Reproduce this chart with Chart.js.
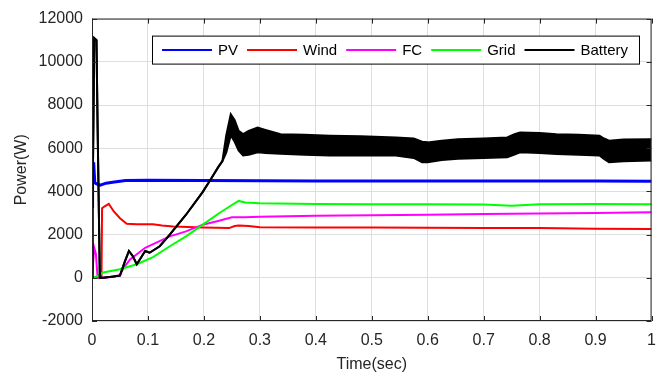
<!DOCTYPE html>
<html>
<head>
<meta charset="utf-8">
<script src="https://cdn.jsdelivr.net/npm/chart.js@4.4.1/dist/chart.umd.min.js"></script>
<style>
  html, body { margin: 0; padding: 0; background: #fff; }
  #wrap { width: 666px; height: 380px; }
</style>
</head>
<body>
<div id="wrap"><canvas id="c" width="666" height="380"></canvas></div>
<script>
// values (time in s, power in W)
const pvT = [0, 0.001, 0.003, 0.005, 0.008, 0.015, 0.025, 0.04, 0.06, 0.1, 0.2, 0.3, 0.4, 0.5, 0.6, 0.7, 0.8, 0.9, 1];
const pvP = [3300, 4900, 5350, 4400, 4350, 4290, 4380, 4440, 4500, 4520, 4500, 4490, 4480, 4480, 4480, 4480, 4480, 4480, 4470];

const windT = [0, 0.017, 0.018, 0.022, 0.03, 0.039, 0.05, 0.062, 0.08, 0.109, 0.125, 0.145, 0.198, 0.245, 0.255, 0.262, 0.28, 0.3, 0.4, 0.5, 0.6, 0.7, 0.8, 0.9, 1];
const windP = [0, 0, 3220, 3300, 3420, 3070, 2760, 2500, 2480, 2480, 2420, 2380, 2330, 2300, 2400, 2420, 2400, 2340, 2330, 2330, 2320, 2310, 2300, 2270, 2260];

const fcT = [0, 0.002, 0.004, 0.007, 0.01, 0.02, 0.04, 0.05, 0.057, 0.068, 0.095, 0.139, 0.168, 0.198, 0.227, 0.25, 0.274, 0.3, 0.4, 0.5, 0.6, 0.7, 0.8, 0.9, 1];
const fcP = [0, 700, 1390, 1100, 0, 0, 50, 150, 470, 850, 1390, 1920, 2150, 2460, 2640, 2800, 2800, 2830, 2870, 2900, 2920, 2950, 2980, 3000, 3030];

const gridT = [0, 0.008, 0.02, 0.05, 0.08, 0.109, 0.139, 0.168, 0.198, 0.227, 0.25, 0.262, 0.274, 0.3, 0.4, 0.5, 0.6, 0.7, 0.75, 0.8, 0.9, 1];
const gridP = [0, 60, 250, 400, 630, 960, 1460, 1920, 2460, 2990, 3370, 3560, 3490, 3450, 3420, 3410, 3400, 3390, 3330, 3400, 3420, 3400];

// battery: upper and lower edge of the oscillating band (same where the trace is thin)
const batT  = [0, 0.001, 0.004, 0.005, 0.008, 0.01, 0.014, 0.02, 0.05, 0.058, 0.066, 0.073, 0.08, 0.088, 0.095, 0.103, 0.112, 0.121, 0.139, 0.168, 0.198, 0.212, 0.225, 0.233, 0.24, 0.248, 0.255, 0.262, 0.27, 0.28, 0.296, 0.31, 0.337, 0.38, 0.425, 0.48, 0.543, 0.575, 0.59, 0.6, 0.625, 0.654, 0.7, 0.742, 0.755, 0.765, 0.8, 0.83, 0.87, 0.907, 0.915, 0.924, 0.95, 1];
const batHi = [0, 3200, 11100, 11100, 11000, 7000, 0, 0, 100, 700, 1240, 1000, 630, 950, 1240, 1160, 1310, 1460, 2000, 2920, 3980, 4550, 5100, 5400, 6600, 7570, 7300, 6800, 6650, 6800, 6960, 6850, 6650, 6620, 6580, 6550, 6500, 6450, 6300, 6270, 6350, 6420, 6450, 6500, 6650, 6730, 6700, 6650, 6620, 6580, 6450, 6350, 6400, 6420];
const batLo = [0, 3200, 11100, 11100, 11000, 7000, 0, 0, 100, 700, 1240, 1000, 630, 950, 1240, 1160, 1310, 1460, 2000, 2920, 3980, 4550, 5100, 5400, 5800, 6600, 6300, 5900, 5660, 5700, 5810, 5780, 5740, 5700, 5660, 5660, 5660, 5550, 5350, 5350, 5450, 5510, 5550, 5580, 5700, 5810, 5780, 5730, 5700, 5660, 5500, 5350, 5400, 5430];

const names = ['PV', 'Wind', 'FC', 'Grid', 'Battery'];
const colors = ['#0000ff', '#ff0000', '#ff00ff', '#00ff00', '#000000'];

const FONT = "'Liberation Sans', Arial, sans-serif";
const pts = (ts, vs) => ts.map((t, i) => ({ x: t, y: vs[i] }));

function line(label, data, color, width, order) {
  return {
    label, data, borderColor: color, backgroundColor: color,
    borderWidth: width, pointRadius: 0, tension: 0, fill: false, order
  };
}

const datasets = [
  line(names[0], pts(pvT, pvP), colors[0], 3, 4),
  line(names[1], pts(windT, windP), colors[1], 2, 3),
  line(names[2], pts(fcT, fcP), colors[2], 2, 2),
  line(names[3], pts(gridT, gridP), colors[3], 2, 1),
  Object.assign(line(names[4], pts(batT, batHi), colors[4], 2, 0), { fill: '+1' }),
  line('', pts(batT, batLo), colors[4], 2, 0)
];

// MATLAB-like box, inward ticks and a framed legend
const frame = {
  id: 'frame',
  afterDatasetsDraw(chart) {
    const { ctx, chartArea: a, scales } = chart;
    ctx.save();
    ctx.strokeStyle = '#262626';
    ctx.lineWidth = 1;
    ctx.strokeRect(a.left + 0.5, a.top + 0.5, a.right - a.left - 1, a.bottom - a.top - 1);
    ctx.beginPath();
    scales.x.ticks.forEach(t => {
      const px = Math.round(scales.x.getPixelForValue(t.value)) + 0.5;
      ctx.moveTo(px, a.bottom); ctx.lineTo(px, a.bottom - 5);
      ctx.moveTo(px, a.top); ctx.lineTo(px, a.top + 5);
    });
    scales.y.ticks.forEach(t => {
      const py = Math.round(scales.y.getPixelForValue(t.value)) + 0.5;
      ctx.moveTo(a.left, py); ctx.lineTo(a.left + 5, py);
      ctx.moveTo(a.right, py); ctx.lineTo(a.right - 5, py);
    });
    ctx.stroke();

    // legend
    const bx = a.left + 60, by = a.top + 17, bw = 487, bh = 28;
    ctx.fillStyle = '#fff';
    ctx.fillRect(bx, by, bw, bh);
    ctx.strokeStyle = '#000';
    ctx.strokeRect(bx + 0.5, by + 0.5, bw, bh);
    ctx.font = '15px ' + FONT;
    ctx.textBaseline = 'middle';
    let x = bx + 10;
    const cy = by + bh / 2 + 0.5;
    names.forEach((n, i) => {
      ctx.strokeStyle = colors[i];
      ctx.lineWidth = 2;
      ctx.beginPath(); ctx.moveTo(x, cy); ctx.lineTo(x + 50, cy); ctx.stroke();
      ctx.fillStyle = '#000';
      ctx.fillText(n, x + 56, cy + 1);
      x += 56 + ctx.measureText(n).width + 9;
    });
    ctx.restore();
  }
};

new Chart(document.getElementById('c'), {
  type: 'line',
  data: { datasets },
  options: {
    responsive: false,
    animation: false,
    layout: { padding: { top: 15, right: 7, left: 0, bottom: 0 } },
    plugins: { legend: { display: false }, tooltip: { enabled: false } },
    scales: {
      x: {
        type: 'linear', min: 0, max: 1,
        afterFit(s) { s.height = 59; },
        ticks: { stepSize: 0.1, color: '#262626', padding: 10, font: { family: FONT, size: 16 },
                 callback: v => String(Number(v.toFixed(1))) },
        grid: { color: '#dedede', drawTicks: false },
        border: { display: false },
        title: { display: true, text: 'Time(sec)', color: '#262626', padding: { bottom: 6 }, font: { family: FONT, size: 16 } }
      },
      y: {
        min: -2000, max: 12000,
        afterFit(s) { s.width = 92; },
        ticks: { stepSize: 2000, color: '#262626', padding: 9, font: { family: FONT, size: 16 }, callback: v => String(v) },
        grid: { color: '#dedede', drawTicks: false },
        border: { display: false },
        title: { display: true, text: 'Power(W)', color: '#262626', padding: { top: 12 }, font: { family: FONT, size: 16 } }
      }
    }
  },
  plugins: [frame]
});
</script>
</body>
</html>
